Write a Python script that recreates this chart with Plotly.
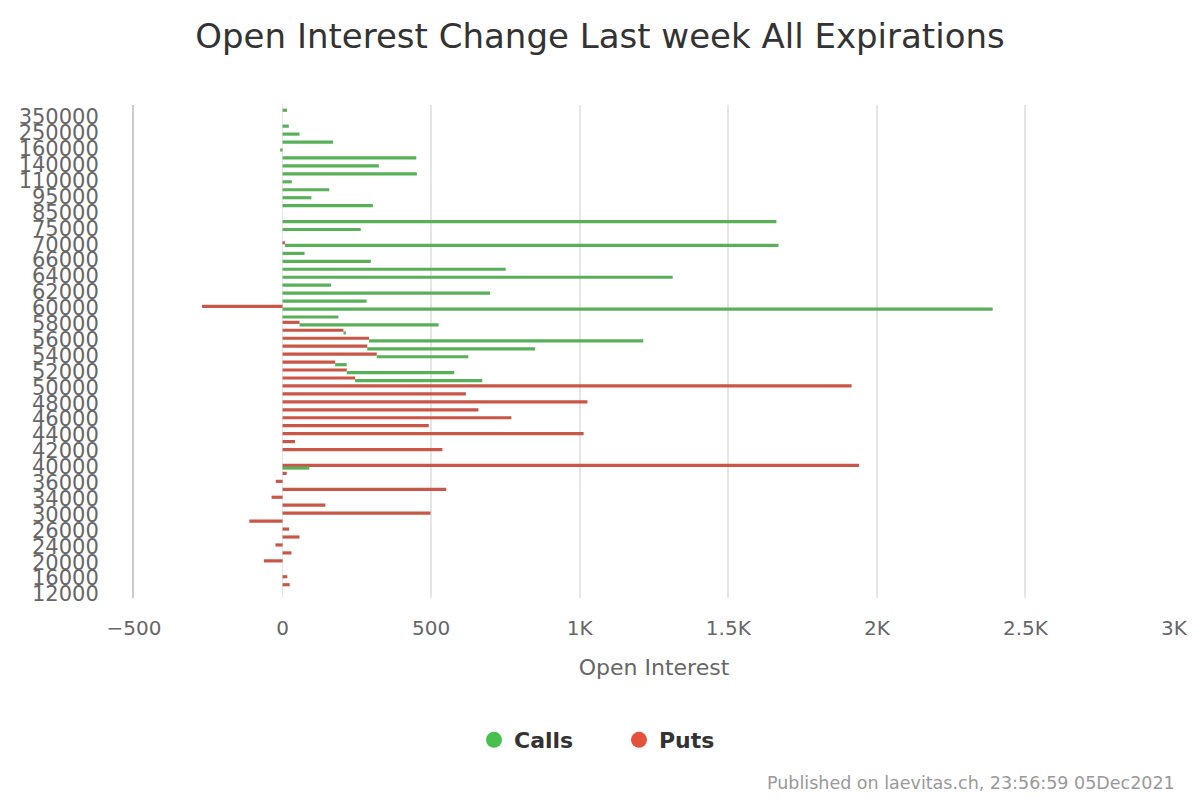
import plotly.graph_objects as go

# Strike categories, top to bottom (only every other one is labelled)
strikes = ["400000", "350000", "300000", "250000", "200000", "160000", "150000", "140000",
           "120000", "110000", "100000", "95000", "90000", "85000", "80000", "75000",
           "72000", "70000", "68000", "66000", "65000", "64000", "63000", "62000",
           "61000", "60000", "59000", "58000", "57000", "56000", "55000", "54000",
           "53000", "52000", "51000", "50000", "49000", "48000", "47000", "46000",
           "45000", "44000", "43000", "42000", "41000", "40000", "38000", "36000",
           "35000", "34000", "32000", "30000", "28000", "26000", "25000", "24000",
           "22000", "20000", "18000", "16000", "14000", "12000"]

calls = [15, 0, 21, 57, 170, -8, 450, 324,
         452, 31, 157, 97, 304, 0, 1662, 263,
         0, 1661, 74, 297, 751, 1313, 163, 698,
         283, 2390, 188, 468, 8, 923, 565, 308,
         39, 362, 428, 0, 0, 0, 0, 0,
         0, 0, 0, 0, 0, 90, 0, 0,
         0, 0, 0, 0, 0, 0, 0, 0,
         0, 0, 0, 0, 0, 0]

puts = [0, 0, 0, 0, 0, 0, 0, 0,
        0, 0, 0, 0, 0, 0, 0, 0,
        0, 8, 0, 0, 0, 0, 0, 0,
        0, -271, 0, 57, 205, 291, 285, 317,
        177, 216, 244, 1915, 617, 1026, 659, 770,
        492, 1013, 42, 538, 0, 1940, 14, -23,
        551, -37, 144, 498, -112, 22, 57, -24,
        30, -63, 0, 16, 24, 0]

# strikes whose call bar is drawn from zero rather than stacked on the put bar
calls_from_zero = ["40000"]

x_tick_values = [-500, 0, 500, 1000, 1500, 2000, 2500, 3000]
x_tick_text = ["\u2212500", "0", "500", "1K", "1.5K", "2K", "2.5K", "3K"]
label_strikes = strikes[1::2]

call_base = [0 if s in calls_from_zero else max(p, 0) for s, p in zip(strikes, puts)]

CALL_BAR = "#58b158"
PUT_BAR = "#c95646"
CALL_LEG = "#47c04e"
PUT_LEG = "#e4523e"
FONT = "DejaVu Sans"

fig = go.Figure()
fig.add_trace(go.Bar(y=strikes, x=puts, orientation="h", width=0.4, offset=-0.37,
                     marker=dict(color=PUT_BAR, line=dict(width=0)),
                     name="Puts", showlegend=False, legendgroup="p"))
fig.add_trace(go.Bar(y=strikes, x=calls, base=call_base, orientation="h", width=0.4, offset=-0.04,
                     marker=dict(color=CALL_BAR, line=dict(width=0)),
                     name="Calls", showlegend=False, legendgroup="c"))
# legend entries (circle symbols)
fig.add_trace(go.Scatter(x=[None], y=[None], mode="markers", name="Calls", legendgroup="c",
                         marker=dict(symbol="circle", size=22, color=CALL_LEG)))
fig.add_trace(go.Scatter(x=[None], y=[None], mode="markers", name="Puts", legendgroup="p",
                         marker=dict(symbol="circle", size=22, color=PUT_LEG)))

fig.update_layout(
    width=1200, height=800,
    margin=dict(l=134, r=19, t=105, b=202),
    paper_bgcolor="white", plot_bgcolor="white",
    barmode="overlay",
    font=dict(family=FONT, color="#666666"),
    title=dict(text="Open Interest Change Last week All Expirations",
               x=0.5, xanchor="center", y=1 - 36 / 800, yanchor="middle", yref="container",
               font=dict(family=FONT, size=34, color="#333333")),
    legend=dict(orientation="h", x=0.5 + 19 / 1200, xanchor="center", xref="container",
                y=1 - 740 / 800, yanchor="middle", yref="container",
                font=dict(family=FONT, size=22, color="#333333", weight="bold"),
                itemsizing="trace", tracegroupgap=0, entrywidth=100, entrywidthmode="pixels"),
    showlegend=True,
)

fig.update_xaxes(range=[-500, 3000], tickvals=x_tick_values, ticktext=x_tick_text,
                 showgrid=True, gridcolor="#e6e6e6", gridwidth=2,
                 zeroline=True, zerolinecolor="#e6e6e6", zerolinewidth=1,
                 tickfont=dict(family=FONT, size=20, color="#666666"),
                 ticks="", ticklabelstandoff=16,
                 title=dict(text="Open Interest", standoff=20,
                            font=dict(family=FONT, size=22, color="#666666")),
                 fixedrange=True)
fig.update_yaxes(type="category", categoryorder="array", categoryarray=strikes,
                 range=[len(strikes) - 0.5, -0.5],
                 tickvals=label_strikes, ticktext=label_strikes,
                 showgrid=False, showline=True, linecolor="#cccccc", linewidth=2,
                 tickfont=dict(family=FONT, size=21, color="#666666"),
                 ticks="", ticklabelstandoff=29,
                 fixedrange=True)

# footnote below the plot area (paper coordinates: 0 = plot bottom, 1 = plot top)
fig.add_annotation(text="Published on laevitas.ch, 23:56:59 05Dec2021",
                   xref="paper", yref="paper", x=1.0, y=(598 - 783) / 493, xshift=3,
                   xanchor="right", yanchor="middle", showarrow=False,
                   font=dict(family=FONT, size=17.5, color="#999999"))

fig.write_html("out.html")
